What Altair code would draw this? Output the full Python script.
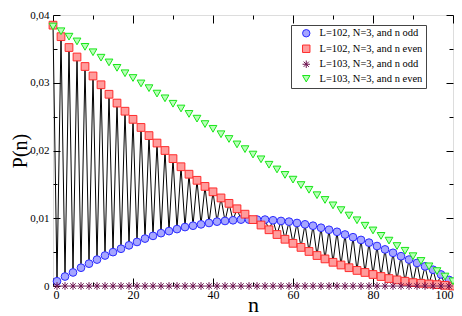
import altair as alt
import pandas as pd

n_even = list(range(0, 101, 2))
n_odd = list(range(1, 100, 2))

# L=102, N=3, n even (red squares)
p_L102_even = [0.0385, 0.0368, 0.0352, 0.0338, 0.0324, 0.0310, 0.0297, 0.0283, 0.0270, 0.0258,
               0.0246, 0.0234, 0.0222, 0.0211, 0.0200, 0.0188, 0.0176, 0.0165, 0.0156, 0.0147,
               0.0139, 0.0130, 0.0122, 0.0114, 0.0106, 0.0098, 0.0090, 0.0083, 0.0076, 0.0069,
               0.0063, 0.0057, 0.0051, 0.0045, 0.0040, 0.0035, 0.0031, 0.0027, 0.0023, 0.0020,
               0.0017, 0.0014, 0.0011, 0.0009, 0.0007, 0.0005, 0.0004, 0.0003, 0.0002, 0.0001,
               0.0000]
# L=102, N=3, n odd (blue circles)
p_L102_odd = [0.0007, 0.0014, 0.0020, 0.0027, 0.0033, 0.0039, 0.0045, 0.0050, 0.0055, 0.0060,
              0.0065, 0.0070, 0.0074, 0.0078, 0.0081, 0.0084, 0.0087, 0.0089, 0.0091, 0.0093,
              0.0095, 0.0096, 0.0097, 0.0098, 0.0098, 0.0098, 0.0098, 0.0097, 0.0096, 0.0095,
              0.0093, 0.0091, 0.0089, 0.0086, 0.0083, 0.0080, 0.0076, 0.0072, 0.0068, 0.0064,
              0.0059, 0.0054, 0.0049, 0.0044, 0.0039, 0.0034, 0.0029, 0.0024, 0.0017, 0.0009]
# L=103, N=3, n even (green triangles)
p_L103_even = [0.0383, 0.0376, 0.0368, 0.0361, 0.0353, 0.0345, 0.0337, 0.0330, 0.0322, 0.0314,
               0.0307, 0.0299, 0.0292, 0.0284, 0.0277, 0.0269, 0.0262, 0.0254, 0.0247, 0.0239,
               0.0232, 0.0224, 0.0217, 0.0209, 0.0202, 0.0194, 0.0187, 0.0179, 0.0172, 0.0164,
               0.0157, 0.0149, 0.0142, 0.0134, 0.0127, 0.0119, 0.0112, 0.0104, 0.0097, 0.0089,
               0.0082, 0.0074, 0.0067, 0.0059, 0.0052, 0.0044, 0.0037, 0.0029, 0.0022, 0.0014,
               0.0007]
# L=103, N=3, n odd (stars)
p_L103_odd = [0.0, 0.0, 0.0, 0.0, 0.0, 0.0, 0.0, 0.0, 0.0, 0.0,
              0.0, 0.0, 0.0, 0.0, 0.0, 0.0, 0.0, 0.0, 0.0, 0.0,
              0.0, 0.0, 0.0, 0.0, 0.0, 0.0, 0.0, 0.0, 0.0, 0.0,
              0.0, 0.0, 0.0, 0.0, 0.0, 0.0, 0.0, 0.0, 0.0, 0.0,
              0.0, 0.0, 0.0, 0.0, 0.0, 0.0, 0.0, 0.0, 0.0, 0.0]

labels = ["L=102, N=3, and n odd", "L=102, N=3, and n even",
          "L=103, N=3, and n odd", "L=103, N=3, and n even"]
x_major = [0, 20, 40, 60, 80, 100]
x_minor = [10, 30, 50, 70, 90]
y_major = [0, 0.01, 0.02, 0.03, 0.04]
y_minor = [0.005, 0.015, 0.025, 0.035]

star = "M-1,0L1,0M0,-1L0,1M-0.7,-0.7L0.7,0.7M-0.7,0.7L0.7,-0.7"
shapes = ["circle", "square", star, "triangle-down"]
fills = ["#a6a6ff", "#ff9c9c", "#7a1f5c", "#b8ffb8"]
strokes = ["#2b2bff", "#ff2b2b", "#6e1450", "#17e617"]

series_data = [(n_odd, p_L102_odd, labels[0]), (n_even, p_L102_even, labels[1]),
               (n_odd, p_L103_odd, labels[2]), (n_even, p_L103_even, labels[3])]
rows = []
for ns, ps, lab in series_data:
    for n, p in zip(ns, ps):
        rows.append({"n": n, "p": p, "series": lab})
pts = pd.DataFrame(rows)

line_rows = [{"n": n, "p": p} for n, p in zip(n_even, p_L102_even)] + \
            [{"n": n, "p": p} for n, p in zip(n_odd, p_L102_odd)]
line_df = pd.DataFrame(line_rows).sort_values("n")

FONT = "Liberation Serif"
xs = alt.Scale(domain=[0, 100], nice=False, zero=False)
ys = alt.Scale(domain=[0, 0.04], nice=False, zero=False)


def xaxis(orient, values, size, labels_on=False, title=None):
    kw = dict(orient=orient, values=values, tickSize=size, offset=-size, domain=False,
              grid=False, labels=labels_on, tickColor="black", tickWidth=1)
    if labels_on:
        kw.update(labelFont=FONT, labelFontSize=12, labelColor="black", labelPadding=3)
    if title:
        kw.update(title=title, titleFont=FONT, titleFontSize=22, titleFontWeight="normal",
                  titleColor="black", titlePadding=-6)
    else:
        kw.update(title=None)
    return alt.Axis(**kw)


def yaxis(orient, values, size, labels_on=False, title=None):
    kw = dict(orient=orient, values=values, tickSize=size, offset=-size, domain=False,
              grid=False, labels=labels_on, tickColor="black", tickWidth=1)
    if labels_on:
        kw.update(labelFont=FONT, labelFontSize=11, labelColor="black", labelPadding=4,
                  labelExpr="datum.value == 0 ? '0' : replace(format(datum.value, '.2f'), '.', ',')")
    if title:
        kw.update(title=title, titleFont=FONT, titleFontSize=20, titleFontWeight="normal",
                  titleColor="black", titlePadding=-1)
    else:
        kw.update(title=None)
    return alt.Axis(**kw)


leg = alt.Legend(title=None, orient="none", legendX=238, legendY=10, fillColor="white",
                 strokeColor="#444444", padding=3, rowPadding=3.5, labelFont=FONT,
                 labelFontSize=10.5, labelColor="black", symbolSize=55, symbolStrokeWidth=1,
                 symbolOffset=7, labelOffset=8, cornerRadius=0)

line = alt.Chart(line_df).mark_line(color="black", strokeWidth=1).encode(
    x=alt.X("n:Q", scale=xs, axis=xaxis("bottom", x_major, 8, True, "n")),
    y=alt.Y("p:Q", scale=ys, axis=yaxis("left", y_major, 7, True, "P(n)")),
)

axes_spec = [
    (xaxis("bottom", x_minor, 4), yaxis("left", y_minor, 4)),
    (xaxis("top", x_major, 8), yaxis("right", y_major, 7)),
    (xaxis("top", x_minor, 4), yaxis("right", y_minor, 4)),
    (None, None),
]

layers = [line]
for lab, (ax, ay) in zip(labels, axes_spec):
    layers.append(
        alt.Chart(pts).transform_filter(alt.datum.series == lab)
        .mark_point(size=60, opacity=1, fillOpacity=1, strokeWidth=1)
        .encode(
            x=alt.X("n:Q", scale=xs, axis=ax),
            y=alt.Y("p:Q", scale=ys, axis=ay),
            shape=alt.Shape("series:N", scale=alt.Scale(domain=labels, range=shapes), legend=leg),
            fill=alt.Fill("series:N", scale=alt.Scale(domain=labels, range=fills), legend=leg),
            stroke=alt.Stroke("series:N", scale=alt.Scale(domain=labels, range=strokes), legend=leg),
        )
    )

chart = alt.layer(*layers).resolve_axis(x="independent", y="independent").properties(
    width=400, height=271,
    autosize=alt.AutoSizeParams(type="none"),
    padding={"left": 45, "top": 7, "right": 1, "bottom": 30},
).configure_view(stroke="black", strokeWidth=1).configure(background="white")

chart.save("out.html", embed_options={"renderer": "svg", "actions": False})
